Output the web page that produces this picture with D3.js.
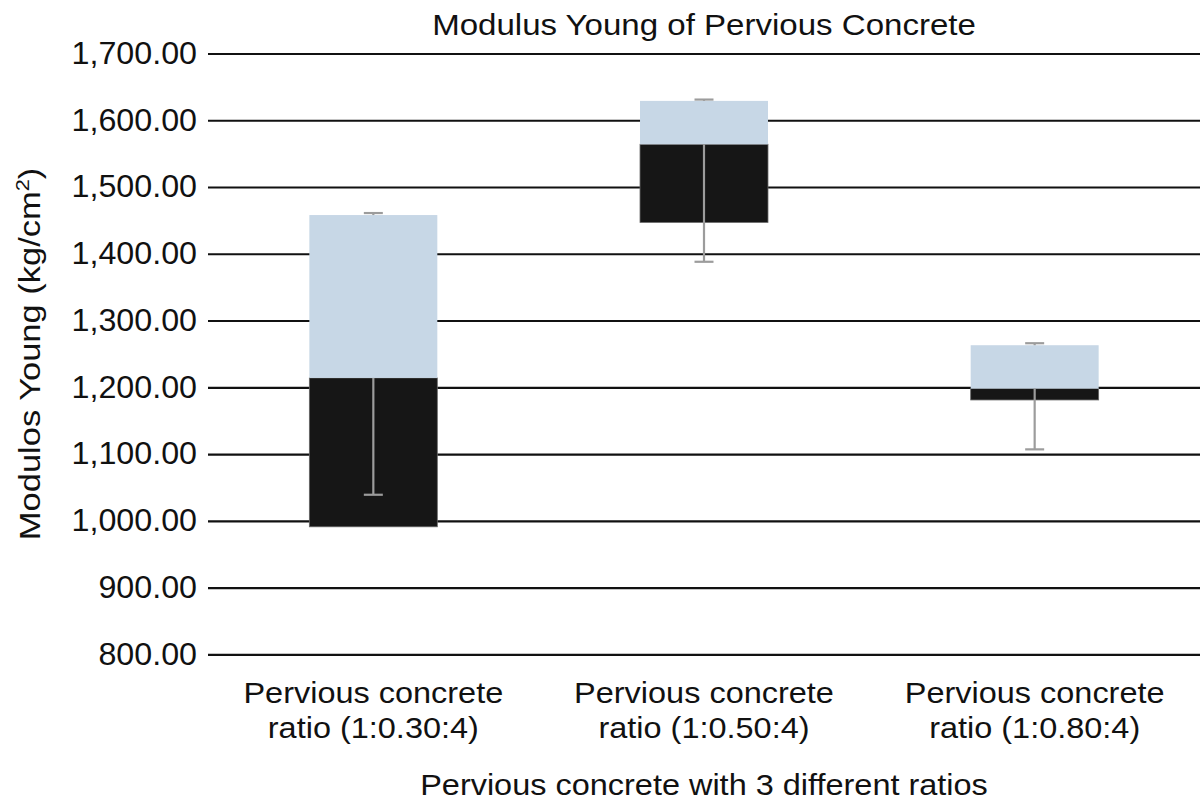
<!DOCTYPE html>
<html>
<head>
    <meta charset="utf-8" />
    <title>Modulus Young of Pervious Concrete</title>
    <style>
        html, body {
            margin: 0;
            padding: 0;
            background-color: #fff;
        }
        svg text {
            font-family: 'Liberation Sans', Arial, Helvetica, sans-serif;
            fill: #111;
        }
    </style>
</head>
<body>
    <div class="canvas"></div>
    <script src="https://d3js.org/d3.v7.min.js"></script>
    <script>
        // values (kg/cm2)
        var categories = ["Pervious concrete ratio (1:0.30:4)",
                          "Pervious concrete ratio (1:0.50:4)",
                          "Pervious concrete ratio (1:0.80:4)"];
        var labelLines = [["Pervious concrete", "ratio (1:0.30:4)"],
                          ["Pervious concrete", "ratio (1:0.50:4)"],
                          ["Pervious concrete", "ratio (1:0.80:4)"]];
        var q1      = [991, 1447, 1181];
        var median  = [1214, 1564, 1198];
        var q3      = [1458, 1629, 1263];
        var lowEnd  = [1039, 1388, 1107];
        var highEnd = [1461, 1631, 1266];
        var yTicks  = [800, 900, 1000, 1100, 1200, 1300, 1400, 1500, 1600, 1700];

        var width = 1200, height = 804;
        var plotLeft = 208, plotRight = 1200, plotTop = 53.5, plotBottom = 654.3;
        var stretch = 1.12; // glyphs in the picture are a bit wider than Liberation Sans

        var svg = d3.select(".canvas")
                    .append("svg")
                    .attr("width", width)
                    .attr("height", height);

        var x = d3.scaleBand()
            .domain(categories)
            .range([plotLeft, plotRight])
            .paddingInner(0.613)
            .paddingOuter(0.3065);

        var y = d3.scaleLinear()
            .domain([800, 1700])
            .range([plotBottom, plotTop]);

        var fmt = d3.format(",.2f");

        // grid lines + tick labels
        var yAxis = d3.axisLeft(y)
            .tickValues(yTicks)
            .tickFormat(fmt)
            .tickSize(-(plotRight - plotLeft))
            .tickPadding(11);

        var tickStretch = 1.04;
        var ag = svg.append("g")
            .attr("transform", "translate(" + plotLeft + ",0)")
            .call(yAxis);
        ag.select(".domain").remove();
        ag.selectAll(".tick line")
            .attr("stroke", "#111")
            .attr("stroke-width", 2.2);
        ag.selectAll(".tick text")
            .attr("font-size", 31)
            .attr("font-family", "'Liberation Sans', Arial, sans-serif")
            .attr("fill", "#111")
            .attr("x", -11 / tickStretch)
            .attr("transform", "scale(" + tickStretch + ",1)");

        var data = categories.map(function(c, i) {
            return { cat: c, q1: q1[i], med: median[i], q3: q3[i], lo: lowEnd[i], hi: highEnd[i] };
        });

        var bars = svg.append("g");
        // lower part (black)
        bars.selectAll(".low").data(data).enter()
            .append("rect")
            .attr("x", function(d){ return x(d.cat); })
            .attr("width", x.bandwidth())
            .attr("y", function(d){ return y(d.med); })
            .attr("height", function(d){ return y(d.q1) - y(d.med); })
            .attr("fill", "#161616")
            .attr("stroke", "#666")
            .attr("stroke-width", 0.8);
        // upper part (light blue)
        bars.selectAll(".up").data(data).enter()
            .append("rect")
            .attr("x", function(d){ return x(d.cat); })
            .attr("width", x.bandwidth())
            .attr("y", function(d){ return y(d.q3); })
            .attr("height", function(d){ return y(d.med) - y(d.q3); })
            .attr("fill", "#c7d7e6");

        // error bars
        var err = svg.append("g")
            .attr("stroke", "#9c9c9c")
            .attr("stroke-width", 2.2);
        var cx = function(d){ return x(d.cat) + x.bandwidth() / 2; };
        err.selectAll(".lo").data(data).enter()
            .append("line")
            .attr("x1", cx).attr("x2", cx)
            .attr("y1", function(d){ return y(d.med); })
            .attr("y2", function(d){ return y(d.lo); });
        err.selectAll(".locap").data(data).enter()
            .append("line")
            .attr("x1", function(d){ return cx(d) - 9.5; })
            .attr("x2", function(d){ return cx(d) + 9.5; })
            .attr("y1", function(d){ return y(d.lo); })
            .attr("y2", function(d){ return y(d.lo); });
        err.selectAll(".hi").data(data).enter()
            .append("line")
            .attr("x1", cx).attr("x2", cx)
            .attr("y1", function(d){ return y(d.q3); })
            .attr("y2", function(d){ return y(d.hi); });
        err.selectAll(".hicap").data(data).enter()
            .append("line")
            .attr("x1", function(d){ return cx(d) - 9.5; })
            .attr("x2", function(d){ return cx(d) + 9.5; })
            .attr("y1", function(d){ return y(d.hi); })
            .attr("y2", function(d){ return y(d.hi); });

        // category labels
        var lab = svg.append("g");
        data.forEach(function(d, i) {
            labelLines[i].forEach(function(s, j) {
                lab.append("text")
                    .attr("transform", "translate(" + cx(d) + "," + (703 + j * 35) + ") scale(" + stretch + ",1)")
                    .attr("text-anchor", "middle")
                    .attr("font-size", 29)
                    .text(s);
            });
        });

        // titles
        svg.append("text")
            .attr("transform", "translate(" + (plotLeft + plotRight) / 2 + ",35) scale(1.14,1)")
            .attr("text-anchor", "middle")
            .attr("font-size", 29)
            .text("Modulus Young of Pervious Concrete");

        svg.append("text")
            .attr("transform", "translate(" + (plotLeft + plotRight) / 2 + ",795) scale(" + stretch + ",1)")
            .attr("text-anchor", "middle")
            .attr("font-size", 29)
            .text("Pervious concrete with 3 different ratios");

        var yt = svg.append("text")
            .attr("transform", "translate(40," + (plotTop + plotBottom) / 2 + ") rotate(-90) scale(1.15,1)")
            .attr("text-anchor", "middle")
            .attr("font-size", 30);
        yt.append("tspan").text("Modulos Young (kg/cm");
        yt.append("tspan").attr("font-size", 19).attr("dy", -11).text("2");
        yt.append("tspan").attr("dy", 11).text(")");
    </script>
</body>
</html>
